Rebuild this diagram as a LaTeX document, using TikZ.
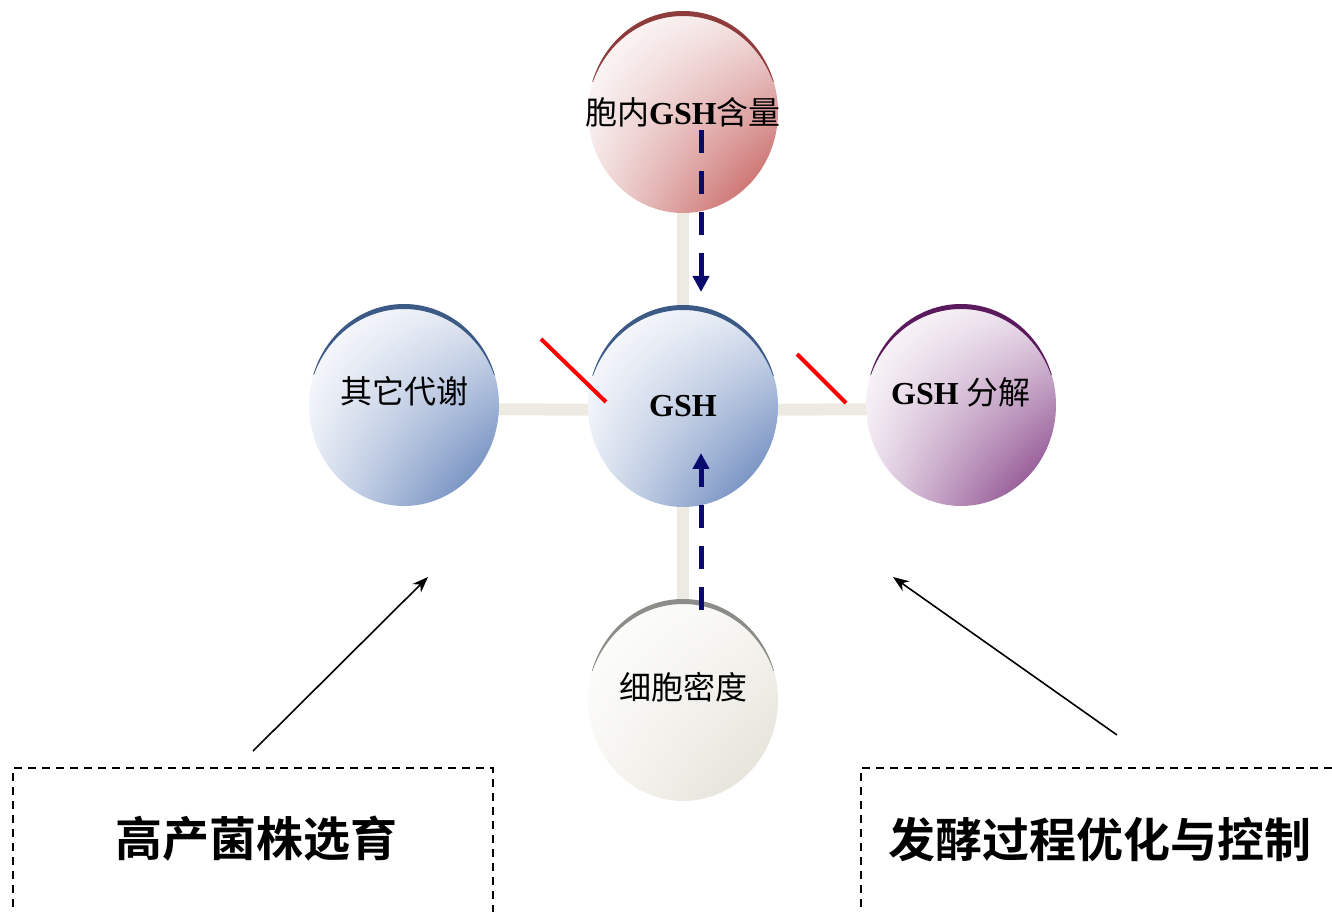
\documentclass[tikz,border=0pt]{standalone}
\usepackage{fontspec}
\setmainfont{Liberation Serif}
\newfontfamily\cjk{Noto Sans CJK SC}
\newfontfamily\cjkb{Noto Sans CJK SC Bold}
\usetikzlibrary{shapes.geometric,arrows.meta,backgrounds,shadings}
\definecolor{beige}{HTML}{EDEBE1}
\definecolor{navy}{HTML}{0A0A6E}
\definecolor{redA}{HTML}{C0504D}\definecolor{redB}{HTML}{F3E2E2}\definecolor{redR}{HTML}{8E3B3B}
\definecolor{bluA}{HTML}{5577B3}\definecolor{bluB}{HTML}{E2E8F3}\definecolor{bluR}{HTML}{3C5A86}
\definecolor{purA}{HTML}{7A307C}\definecolor{purB}{HTML}{ECE0EC}\definecolor{purR}{HTML}{5A1A5C}
\definecolor{gryA}{HTML}{E0DED3}\definecolor{gryB}{HTML}{F7F6F2}\definecolor{gryR}{HTML}{8C8C88}
\tikzset{
  ball/.style n args={2}{ellipse, minimum width=95pt, minimum height=101pt, inner sep=0pt,
    upper left=white, upper right=#2, lower left=#2, lower right=#1},
  link/.style={draw=beige, line width=6pt},
  dasharrow/.style={draw=navy, line width=2.5pt, dash pattern=on 11.5pt off 9pt,
    -{Triangle[length=8pt,width=8pt]}},
  block/.style={draw=red, line width=2pt},
  pointer/.style={draw=black, line width=0.8pt, -{Stealth[length=8pt,width=6pt]}},
  dbox/.style={draw=black, line width=0.7pt, dash pattern=on 4pt off 3pt},
  ctext/.style={font=\fontsize{16pt}{18pt}\selectfont},
  btext/.style={font=\cjkb\fontsize{23.5pt}{26pt}\selectfont},
}
\newcommand{\rimat}[3]{%
  \begin{scope}
    \clip (#1-100,#2+30) rectangle (#1+100,#2+110);
    \fill[#3, even odd rule] (#1,#2) ellipse [x radius=95, y radius=101]
      (#1,#2-5) ellipse [x radius=96, y radius=101];
  \end{scope}}
\newcommand{\ctr}[2]{\raisebox{#1}{\makebox[0pt]{#2}}}
\begin{document}
\begin{tikzpicture}[x=0.5pt,y=0.5pt]
\useasboundingbox (0,0) rectangle (1332,911);
% circles
\node[ball={redA}{redB}, ctext] (T) at (683,799) {\ctr{-4pt}{\cjk 胞内{\rmfamily\bfseries GSH}含量}};
\node[ball={bluA}{bluB}, ctext] (C) at (683,505) {\ctr{-4pt}{\bfseries GSH}};
\node[ball={bluA}{bluB}, ctext] (L) at (404,506) {\ctr{15pt}{\cjk 其它代谢}};
\node[ball={purA}{purB}, ctext] (R) at (961,506) {\ctr{14pt}{{\bfseries GSH} \cjk 分解}};
\node[ball={gryA}{gryB}, ctext] (B) at (683,211) {\ctr{14pt}{\cjk 细胞密度}};
% rims
\rimat{683}{799}{redR}
\rimat{683}{505}{bluR}
\rimat{404}{506}{bluR}
\rimat{961}{506}{purR}
\rimat{683}{211}{gryR}
% links behind
\begin{pgfonlayer}{background}
\draw[link] (T) -- (C);
\draw[link] (C) -- (B);
\draw[link] ([yshift=-2]L.center) -- ([yshift=-2]C.center);
\draw[link] ([yshift=-2]C.center) -- ([yshift=-2]R.center);
\end{pgfonlayer}
% dashed arrows
\coordinate (t1) at (701,781);
\coordinate (t2) at (701,619);
\coordinate (b1) at (701,301);
\coordinate (b2) at (701,458);
\draw[dasharrow] (t1) -- (t2);
\draw[dasharrow] (b1) -- (b2);
% red inhibition bars
\coordinate (r1) at (541,572); \coordinate (r2) at (606,509);
\coordinate (r3) at (797,557); \coordinate (r4) at (846,508);
\draw[block] (r1) -- (r2);
\draw[block] (r3) -- (r4);
% boxes
\draw[dbox] (13,-10) -- (13,143) -- (493,143) -- (493,-10);
\draw[dbox] (861,-10) -- (861,143) -- (1345,143);
\node[btext] (X) at (256,72) {高产菌株选育};
\node[btext] (Y) at (1100,72) {发酵过程优化与控制};
% pointers
\coordinate (p1) at (253,160); \coordinate (p2) at (428,334);
\coordinate (p3) at (1117,176); \coordinate (p4) at (893,334);
\draw[pointer] (p1) -- (p2);
\draw[pointer] (p3) -- (p4);
\end{tikzpicture}
\end{document}
